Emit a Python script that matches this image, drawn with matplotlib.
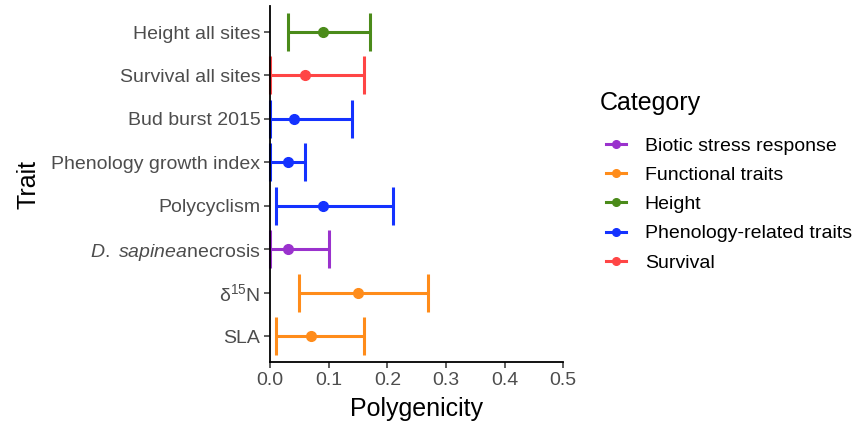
import matplotlib

matplotlib.use("Agg")

import matplotlib.pyplot as plt
from matplotlib.lines import Line2D


traits = [
    "SLA",
    "δ$^{15}$N",
    r"$\it{D.}$ $\it{sapinea}$necrosis",
    "Polycyclism",
    "Phenology growth index",
    "Bud burst 2015",
    "Survival all sites",
    "Height all sites",
]
categories = [
    "Functional traits",
    "Functional traits",
    "Biotic stress response",
    "Phenology-related traits",
    "Phenology-related traits",
    "Phenology-related traits",
    "Survival",
    "Height",
]
estimate = [0.07, 0.15, 0.03, 0.09, 0.03, 0.04, 0.06, 0.09]
lower = [0.01, 0.05, 0.0, 0.01, 0.0, 0.0, 0.0, 0.03]
upper = [0.16, 0.27, 0.10, 0.21, 0.06, 0.14, 0.16, 0.17]

legend_order = [
    "Biotic stress response",
    "Functional traits",
    "Height",
    "Phenology-related traits",
    "Survival",
]
colors = {
    "Biotic stress response": "#9A32CD",
    "Functional traits": "#FF8C1A",
    "Height": "#4B8B1A",
    "Phenology-related traits": "#1432FF",
    "Survival": "#FF4545",
}

plt.rcParams["font.family"] = ["Liberation Sans", "DejaVu Sans"]
plt.rcParams["mathtext.fontset"] = "custom"
plt.rcParams["mathtext.rm"] = "Liberation Sans"
plt.rcParams["mathtext.it"] = "Liberation Sans:italic"


def main():
    fig = plt.figure(figsize=(8.6, 4.25), dpi=100)
    ax = fig.add_axes([0.314, 0.148, 0.341, 0.838])

    for i, (cat, est, lo, hi) in enumerate(zip(categories, estimate, lower, upper)):
        ax.errorbar(
            est, i,
            xerr=[[est - lo], [hi - est]],
            fmt="o", color=colors[cat], markersize=7,
            elinewidth=2.2, capsize=14, capthick=2.2, zorder=1,
            clip_on=False,
        )

    ax.set_xlim(0, 0.5)
    ax.set_ylim(-0.6, len(traits) - 0.4)
    ax.set_xticks([0.0, 0.1, 0.2, 0.3, 0.4, 0.5])
    ax.set_xticklabels(["0.0", "0.1", "0.2", "0.3", "0.4", "0.5"])
    ax.set_yticks(range(len(traits)))
    ax.set_yticklabels(traits)

    for side in ["top", "right"]:
        ax.spines[side].set_visible(False)
    for side in ["left", "bottom"]:
        ax.spines[side].set_linewidth(1.3)
        ax.spines[side].set_zorder(2)
    ax.tick_params(axis="both", colors="#333333", labelcolor="#4D4D4D",
                   labelsize=14, length=4, width=1.1, pad=3)

    ax.set_xlabel("Polygenicity", fontsize=18, labelpad=6)
    ax.set_ylabel("Trait", fontsize=18, labelpad=8)

    # legend title drawn separately so the gap to the keys can match
    fig.text(600 / 860, 1 - 103 / 425, "Category", fontsize=18, va="center", ha="left")
    handles = [
        Line2D([0], [0], color=colors[c], marker="o", markersize=5.5, linewidth=2.2)
        for c in legend_order
    ]
    fig.legend(
        handles, legend_order,
        loc="upper left", bbox_to_anchor=(0.684, 0.719),
        frameon=False, fontsize=14,
        handlelength=1.05, labelspacing=0.6, handletextpad=0.95,
    )

    fig.savefig("out.png", dpi=100)
    plt.close(fig)


if __name__ == "__main__":
    main()
